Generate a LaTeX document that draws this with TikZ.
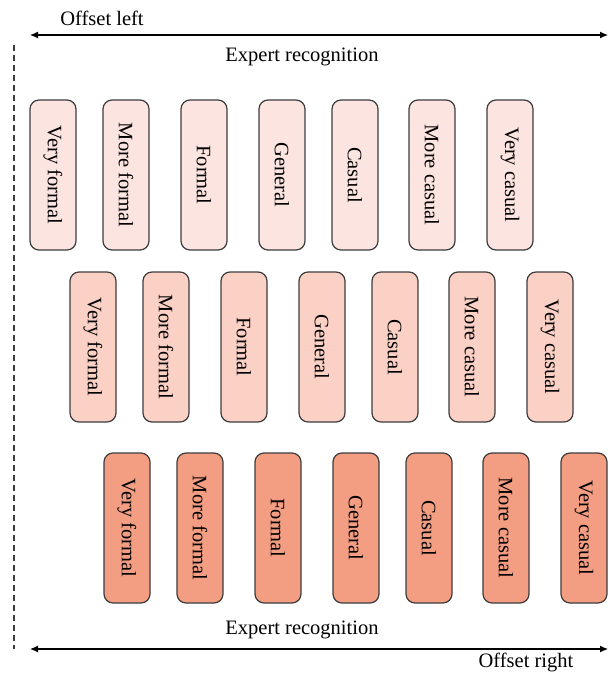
\documentclass[tikz,border=0pt]{standalone}
\usepackage{fontspec}
\setmainfont{Liberation Serif}
\usetikzlibrary{arrows.meta}
\definecolor{toneA}{RGB}{252,229,225}
\definecolor{toneB}{RGB}{251,209,198}
\definecolor{toneC}{RGB}{243,158,130}
\definecolor{edgegray}{RGB}{60,60,60}
\tikzset{
  % rotated boxes: width runs along the text, i.e. vertically on the page
  levelbox/.style={draw=edgegray, line width=1.2pt, rounded corners=9pt,
    minimum width=150pt, minimum height=46pt, inner sep=0pt,
    font=\fontsize{20.5}{23}\selectfont, rotate=-90, anchor=center},
  caption/.style={font=\fontsize{20.5}{24}\selectfont, inner sep=0pt},
  scale line/.style={line width=1.1pt, {Latex[length=8pt,width=7pt]}-{Latex[length=8pt,width=7pt]}},
}
\begin{document}
\begin{tikzpicture}[x=1pt,y=-1pt]
  \useasboundingbox (0,0) rectangle (610,675);

  % left reference line
  \coordinate (dtop) at (14,45);
  \coordinate (dbot) at (14,649);
  \draw[edgegray, line width=1.2pt, dash pattern=on 6pt off 4pt] (dtop) -- (dbot);

  % top scale
  \coordinate (tl) at (30,35);
  \coordinate (tr) at (608,35);
  \draw[scale line] (tl) -- (tr);
  \node[caption] (offl) at (102,18) {Offset left};
  \node[caption] (exptop) at (302,57) {Expert recognition};

  % three rows of levels
  \foreach \lab [count=\i] in {Very formal, More formal, Formal, General, Casual, More casual, Very casual}{
    \pgfmathsetmacro{\cx}{{53,126,204,282,355,432,510}[\i-1]}
    \node[levelbox, fill=toneA] (ra\i) at (\cx,175) {\lab};
    \node[levelbox, fill=toneB] (rb\i) at (\cx+40,347) {\lab};
    \node[levelbox, fill=toneC] (rc\i) at (\cx+74,528) {\lab};
  }

  % bottom scale
  \node[caption] (expbot) at (302,630) {Expert recognition};
  \coordinate (bl) at (30,649);
  \coordinate (br) at (608,649);
  \draw[scale line] (bl) -- (br);
  \node[caption] (offr) at (526,662) {Offset right};
\end{tikzpicture}
\end{document}
